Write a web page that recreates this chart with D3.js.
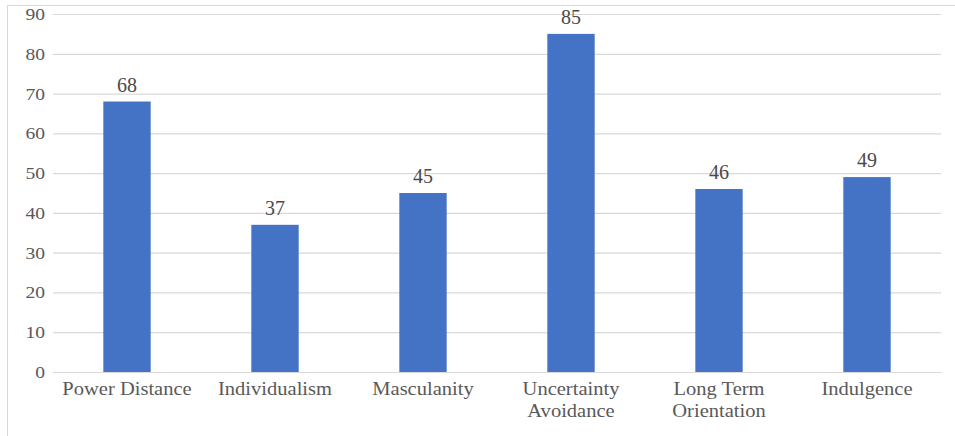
<!DOCTYPE html>
<html>
<head>
<meta charset="utf-8">
<script src="https://cdn.jsdelivr.net/npm/d3@7"></script>
<style>
  html, body { margin: 0; padding: 0; background: #ffffff; }
  svg { display: block; }
</style>
</head>
<body>
<svg id="chart" width="955" height="436"></svg>
<script>
const categories = ["Power Distance", "Individualism", "Masculanity", "Uncertainty Avoidance", "Long Term Orientation", "Indulgence"];
const categoryLines = [["Power Distance"], ["Individualism"], ["Masculanity"], ["Uncertainty", "Avoidance"], ["Long Term", "Orientation"], ["Indulgence"]];
const values = [68, 37, 45, 85, 46, 49];
const yTicks = [0, 10, 20, 30, 40, 50, 60, 70, 80, 90];

const svg = d3.select("#chart");
const W = 955, H = 436;
const margin = { left: 53, right: 14, top: 14, bottom: 64 };
const textColor = "#595959";
const fontFamily = "'Liberation Serif', 'Times New Roman', serif";

// outer chart border (only top and left visible in the picture)
svg.append("rect")
  .attr("x", 7.5).attr("y", 5.5)
  .attr("width", W + 10).attr("height", H + 10)
  .attr("fill", "none").attr("stroke", "#d9d9d9").attr("stroke-width", 1);

const x = d3.scaleBand()
  .domain(categories)
  .range([margin.left, W - margin.right])
  .paddingInner(0.68)
  .paddingOuter(0.34);

const y = d3.scaleLinear()
  .domain([0, 90])
  .range([H - margin.bottom, margin.top]);

// gridlines
const grid = svg.append("g")
  .attr("transform", `translate(${margin.left},0)`)
  .call(d3.axisLeft(y).tickValues(yTicks).tickSize(-(W - margin.left - margin.right)).tickFormat(""));
grid.select(".domain").remove();
grid.selectAll(".tick line").attr("stroke", "#d9d9d9").attr("stroke-width", 1.2);

// y tick labels
const yAxis = svg.append("g")
  .attr("transform", `translate(${margin.left},0)`)
  .call(d3.axisLeft(y).tickValues(yTicks).tickSize(0).tickPadding(8));
yAxis.select(".domain").remove();
yAxis.selectAll(".tick text")
  .attr("fill", textColor)
  .style("font-family", fontFamily)
  .style("font-size", "17px")
  .attr("transform", function() { return "scale(1.15,1)"; })
  .attr("x", -8 / 1.15);

// bars
svg.append("g").selectAll("rect")
  .data(values)
  .join("rect")
  .attr("x", (d, i) => x(categories[i]))
  .attr("y", d => y(d))
  .attr("width", x.bandwidth())
  .attr("height", d => y(0) - y(d))
  .attr("fill", "#4472C4");

// data labels
svg.append("g").selectAll("text")
  .data(values)
  .join("text")
  .attr("x", (d, i) => x(categories[i]) + x.bandwidth() / 2)
  .attr("y", d => y(d) - 10)
  .attr("text-anchor", "middle")
  .attr("fill", "#4a4a4a")
  .style("font-family", fontFamily)
  .style("font-size", "20px")
  .text(d => d);

// x axis category labels
const xAxis = svg.append("g")
  .attr("transform", `translate(0,${y(0)})`)
  .call(d3.axisBottom(x).tickSize(0).tickFormat(""));
xAxis.select(".domain").attr("stroke", "#d9d9d9").attr("stroke-width", 1.2);

const labels = svg.append("g").selectAll("text")
  .data(categories)
  .join("text")
  .attr("text-anchor", "middle")
  .attr("fill", textColor)
  .style("font-family", fontFamily)
  .style("font-size", "18px")
  .attr("transform", d => `translate(${x(d) + x.bandwidth() / 2},${y(0) + 23}) scale(1.14,1)`);
labels.each(function(d, i) {
  d3.select(this).selectAll("tspan")
    .data(categoryLines[i])
    .join("tspan")
    .attr("x", 0)
    .attr("dy", (t, j) => j === 0 ? 0 : 22)
    .text(t => t);
});
</script>
</body>
</html>
